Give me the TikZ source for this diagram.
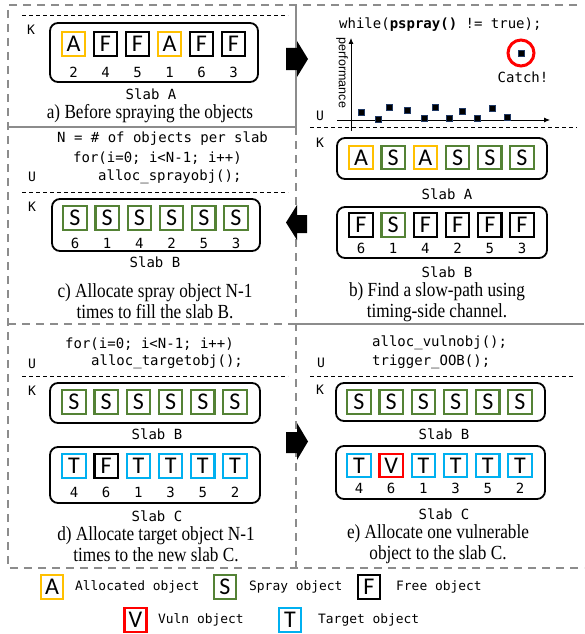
\documentclass[tikz,border=0pt]{standalone}
\usepackage{fontspec}
\setmainfont{Liberation Serif}
\setmonofont{DejaVu Sans Mono}
\setsansfont{Liberation Sans}
\newfontfamily\cellfont{Carlito}
\newfontfamily\capfont[FakeStretch=0.86]{Liberation Serif}
\usetikzlibrary{arrows.meta}
\definecolor{cgold}{HTML}{FFC000}
\definecolor{cgreen}{HTML}{548235}
\definecolor{cblue}{HTML}{00B0F0}
\definecolor{cred}{HTML}{FF0000}
\definecolor{cgray}{HTML}{8C8C8C}
\definecolor{cnavy}{HTML}{1F3864}
\tikzset{
 cell/.style={draw=#1, line width=2.2pt, minimum width=23.5pt, minimum height=23.5pt, inner sep=0pt, fill=white, font=\cellfont\fontsize{24}{24}\selectfont},
 legcell/.style={cell=#1, minimum width=22pt, minimum height=24pt},
 slabbox/.style={draw, line width=1.8pt, rounded corners=8pt, inner sep=0pt},
 mono/.style={font=\ttfamily\fontsize{14}{14}\selectfont, inner sep=0pt},
 legtext/.style={font=\ttfamily\fontsize{12.9}{13}\selectfont, inner sep=0pt, anchor=west},
 uk/.style={font=\ttfamily\fontsize{13}{13}\selectfont, inner sep=0pt},
 captext/.style={font=\capfont\fontsize{20}{21}\selectfont, align=center, inner sep=0pt},
 kline/.style={dash pattern=on 4pt off 3pt, line width=0.8pt},
 panelframe/.style={cgray, line width=2.4pt},
 panelframedash/.style={panelframe, dash pattern=on 8pt off 6pt},
 datapt/.style={draw=cnavy, fill=black, line width=0.7pt, minimum size=6pt, inner sep=0pt},
 blockarrow/.style={fill=black},
 plotaxis/.style={line width=0.8pt, -{Latex[length=6pt,width=5pt]}},
}
\begin{document}
\begin{tikzpicture}[x=1pt,y=-1pt]
\useasboundingbox (0,0) rectangle (584,634);
% ---------- frames ----------
\draw[panelframedash] (577,5) -- (8,5) -- (8,568) -- (584,568);
\draw[panelframe] (296,5) -- (296,127) -- (8,127);
\draw[panelframedash] (296,127) -- (296,568);
\draw[panelframedash] (8,324) -- (296,324);
\draw[panelframe] (296,324) -- (584,324);
% ---------- block arrows ----------
\fill[blockarrow] (286,48) -- (297,48) -- (297,41) -- (308,59) -- (297,77) -- (297,70) -- (286,70) -- cycle;
\fill[blockarrow] (307,215) -- (297,215) -- (297,205) -- (286,222.5) -- (297,240) -- (297,233) -- (307,233) -- cycle;
\fill[blockarrow] (286,432) -- (297,432) -- (297,423) -- (308,441.5) -- (297,460) -- (297,453) -- (286,453) -- cycle;
% ---------- panel a ----------
\draw[kline] (22,15) -- (288,15);
\node[uk] (aK) at (31,30) {K};
\node[slabbox, minimum width=208pt, minimum height=59pt] (aslab) at (154,52.5) {};
\foreach \l/\c [count=\i from 0] in {A/cgold,F/black,F/black,A/cgold,F/black,F/black}
  \node[cell=\c] (a\i) at (73.5+32*\i,44) {\l};
\foreach \n [count=\i from 0] in {2,4,5,1,6,3}
  \node[mono] (an\i) at (73.5+32*\i,72) {\n};
\node[mono] (aname) at (151,94) {Slab A};
\node[captext] (acap) at (150,113.5) {a) Before spraying the objects};
% ---------- panel b ----------
\node[mono, anchor=west] (bcode) at (339,25) {while(\textbf{pspray()} != true);};
\coordinate (byo) at (351,131);
\coordinate (byt) at (351,38);
\coordinate (bxo) at (337,120);
\coordinate (bxt) at (550,120);
\draw[plotaxis] (byo) -- (byt);
\draw[plotaxis] (bxo) -- (bxt);
\node[font=\sffamily\fontsize{12.5}{12.5}\selectfont, rotate=-90, inner sep=0pt] (bperf) at (342,73) {performance};
\foreach \px/\py [count=\i] in {361/112,378/119,389/107,407/110,424/118,435/107,449/118,462/111,477/118,492/108,507/117}
  \node[datapt] (bp\i) at (\px,\py) {};
\node[datapt] (bcatchpt) at (521,53) {};
\node[draw=cred, line width=3pt, circle, minimum size=26pt, inner sep=0pt] (bcircle) at (521,53) {};
\node[mono] (bcatch) at (523,77) {Catch!};
\node[uk] (bU) at (320,116) {U};
\draw[kline] (310,127) -- (577,127);
\node[uk] (bK) at (320,143) {K};
\node[slabbox, minimum width=210pt, minimum height=41pt] (bslabA) at (442,158.5) {};
\foreach \l/\c [count=\i from 0] in {A/cgold,S/cgreen,A/cgold,S/cgreen,S/cgreen,S/cgreen}
  \node[cell=\c] (bA\i) at (361+32.2*\i,157.5) {\l};
\node[mono] (bnameA) at (447,194) {Slab A};
\node[slabbox, minimum width=210pt, minimum height=51pt] (bslabB) at (442,232.5) {};
\foreach \l/\c [count=\i from 0] in {F/black,S/cgreen,F/black,F/black,F/black,F/black}
  \node[cell=\c] (bB\i) at (361+32.2*\i,225) {\l};
\foreach \n [count=\i from 0] in {6,1,4,2,5,3}
  \node[mono] (bBn\i) at (361+32.2*\i,248) {\n};
\node[mono] (bnameB) at (447,272) {Slab B};
\node[captext] (bcap) at (437,302.5) {b) Find a slow-path using\\timing-side channel.};
% ---------- panel c ----------
\node[mono, anchor=west] (cc1) at (57,139) {N = \# of objects per slab};
\node[mono, anchor=west] (cc2) at (73,158) {for(i=0; i<N-1; i++)};
\node[mono, anchor=west] (cc3) at (98,177) {alloc\_sprayobj();};
\node[uk] (cU) at (32,177) {U};
\draw[kline] (22,192) -- (288,192);
\node[uk] (cK) at (32,207) {K};
\node[slabbox, minimum width=208pt, minimum height=52pt] (cslab) at (156,225) {};
\foreach \l [count=\i from 0] in {S,S,S,S,S,S}
  \node[cell=cgreen] (c\i) at (75+32.2*\i,218) {\l};
\foreach \n [count=\i from 0] in {6,1,4,2,5,3}
  \node[mono] (cn\i) at (75+32.2*\i,243) {\n};
\node[mono] (cname) at (155,262) {Slab B};
\node[captext] (ccap) at (155,301.5) {c) Allocate spray object N-1\\times to fill the slab B.};
% ---------- panel d ----------
\node[mono, anchor=west] (dc1) at (65,344) {for(i=0; i<N-1; i++)};
\node[mono, anchor=west] (dc2) at (91,362) {alloc\_targetobj();};
\node[uk] (dU) at (32,364) {U};
\draw[kline] (22,376) -- (288,376);
\node[uk] (dK) at (32,391) {K};
\node[slabbox, minimum width=210pt, minimum height=40pt] (dslabB) at (155,403) {};
\foreach \l [count=\i from 0] in {S,S,S,S,S,S}
  \node[cell=cgreen] (dB\i) at (74+32.2*\i,402) {\l};
\node[mono] (dnameB) at (157,434) {Slab B};
\node[slabbox, minimum width=210pt, minimum height=56pt] (dslabC) at (155,475) {};
\foreach \l/\c [count=\i from 0] in {T/cblue,F/black,T/cblue,T/cblue,T/cblue,T/cblue}
  \node[cell=\c] (dC\i) at (74+32.2*\i,466) {\l};
\foreach \n [count=\i from 0] in {4,6,1,3,5,2}
  \node[mono] (dCn\i) at (74+32.2*\i,492) {\n};
\node[mono] (dnameC) at (157,516) {Slab C};
\node[captext] (dcap) at (156,544.5) {d) Allocate target object N-1\\times to the new slab C.};
% ---------- panel e ----------
\node[mono, anchor=west] (ec1) at (372,343) {alloc\_vulnobj();};
\node[mono, anchor=west] (ec2) at (372,362) {trigger\_OOB();};
\node[uk] (eU) at (321,363) {U};
\draw[kline] (310,376) -- (573,376);
\node[uk] (eK) at (320,390) {K};
\node[slabbox, minimum width=209pt, minimum height=38pt] (eslabB) at (440.5,402) {};
\foreach \l [count=\i from 0] in {S,S,S,S,S,S}
  \node[cell=cgreen] (eB\i) at (359+32.2*\i,402) {\l};
\node[mono] (enameB) at (444,434) {Slab B};
\node[slabbox, minimum width=209pt, minimum height=53pt] (eslabC) at (440.5,472.5) {};
\foreach \l/\c [count=\i from 0] in {T/cblue,V/cred,T/cblue,T/cblue,T/cblue,T/cblue}
  \node[cell=\c] (eC\i) at (359+32.2*\i,465.5) {\l};
\foreach \n [count=\i from 0] in {4,6,1,3,5,2}
  \node[mono] (eCn\i) at (359+32.2*\i,488) {\n};
\node[mono] (enameC) at (444,514) {Slab C};
\node[captext] (ecap) at (438,544) {e) Allocate one vulnerable\\object to the slab C.};
% ---------- legend ----------
\node[legcell=cgold] (lA) at (52,587) {A};
\node[legtext] (lAt) at (75,587) {Allocated object};
\node[legcell=cgreen] (lS) at (225,587) {S};
\node[legtext] (lSt) at (249,587) {Spray object};
\node[legcell=black] (lF) at (369,587) {F};
\node[legtext] (lFt) at (396,587) {Free object};
\node[legcell=cred] (lV) at (135.5,620) {V};
\node[legtext] (lVt) at (158,620) {Vuln object};
\node[legcell=cblue] (lT) at (290,620) {T};
\node[legtext] (lTt) at (318,620) {Target object};
\end{tikzpicture}
\end{document}
